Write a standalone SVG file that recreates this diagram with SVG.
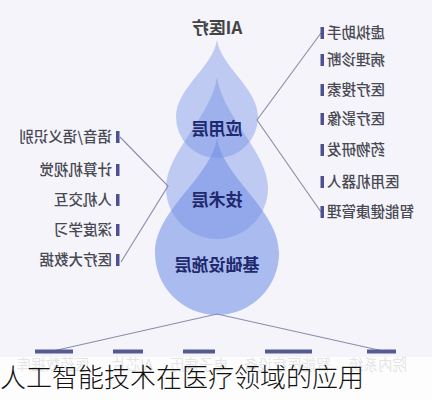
<svg xmlns="http://www.w3.org/2000/svg" width="432" height="400" viewBox="0 0 432 400">
<style>
  .bg{fill:#f4f4fa}
  .drop{fill:#6e8ce6}
  .lay{font-family:"Noto Sans CJK SC","Noto Sans",sans-serif;font-size:17px;font-weight:700;fill:#1f2a6e;text-anchor:middle}
  .lbl{font-family:"Noto Sans CJK SC","Noto Sans",sans-serif;font-size:14.5px;font-weight:500;fill:#484852}
  .bar{fill:#4d5190}
  .conn{fill:none;stroke:#8a8ca8;stroke-width:1.1}
  .hbar{fill:#555a92}
  .blbl{font-family:"Noto Sans CJK SC","Noto Sans",sans-serif;font-size:14.5px;fill:#777;text-anchor:middle}
  .title{font-family:"Noto Sans CJK SC","Noto Sans",sans-serif;font-size:17px;font-weight:700;fill:#444;text-anchor:middle}
  .cap{font-family:"Noto Sans CJK SC","Noto Sans",sans-serif;font-size:26px;font-weight:300;fill:#111}
</style>
<rect class="bg" x="0" y="0" width="432" height="400"/>
<g transform="matrix(-1 0 0 1 432 0)">
  <g id="connectors">
    <polyline class="conn" points="111,33 175,120 111,212"/>
    <polyline class="conn" points="312,137 264,186 311,262"/>
    <polyline class="conn" points="49,351 215,314 379,351"/>
  </g>
  <g id="title"><text class="title" x="215" y="34">AI医疗</text></g>
  <g id="infra-layer">
    <path class="drop" opacity="0.55" d="M215,138 C221.2,178.3 277,209.6 277,253 A62,62 0 0 1 153,253 C153,209.6 208.8,178.3 215,138 Z"/>
  </g>
  <g id="tech-layer">
    <path class="drop" opacity="0.4" d="M215,77 C220.1,115.9 266,152.3 266,188 A51,51 0 0 1 164,188 C164,152.3 209.9,115.9 215,77 Z"/>
  </g>
  <g id="app-layer">
    <path class="drop" opacity="0.4" d="M215,40 C219.1,67 256,88.3 256,117 A41,41 0 0 1 174,117 C174,88.3 210.9,67 215,40 Z"/>
  </g>
  <g id="app-layer-label"><text class="lay" x="215" y="135">应用层</text></g>
  <g id="tech-layer-label"><text class="lay" x="215" y="206">技术层</text></g>
  <g id="infra-layer-label"><text class="lay" x="215" y="271">基础设施层</text></g>

  <g id="app-1"><rect class="bar" x="108" y="27" width="3.5" height="12"/><text class="lbl" x="105" y="38" text-anchor="end">虚拟助手</text></g>
  <g id="app-2"><rect class="bar" x="108" y="54" width="3.5" height="12"/><text class="lbl" x="105" y="65" text-anchor="end">病理诊断</text></g>
  <g id="app-3"><rect class="bar" x="108" y="84" width="3.5" height="12"/><text class="lbl" x="105" y="95" text-anchor="end">医疗搜索</text></g>
  <g id="app-4"><rect class="bar" x="108" y="113" width="3.5" height="12"/><text class="lbl" x="105" y="124" text-anchor="end">医疗影像</text></g>
  <g id="app-5"><rect class="bar" x="108" y="144" width="3.5" height="12"/><text class="lbl" x="105" y="155" text-anchor="end">药物研发</text></g>
  <g id="app-6"><rect class="bar" x="108" y="176" width="3.5" height="12"/><text class="lbl" x="105" y="187" text-anchor="end">医用机器人</text></g>
  <g id="app-7"><rect class="bar" x="108" y="206" width="3.5" height="12"/><text class="lbl" x="105" y="217" text-anchor="end">智能健康管理</text></g>

  <g id="tech-1"><rect class="bar" x="312.5" y="131" width="3.5" height="12"/><text class="lbl" x="320" y="142">语音/语义识别</text></g>
  <g id="tech-2"><rect class="bar" x="312.5" y="164" width="3.5" height="12"/><text class="lbl" x="320" y="175">计算机视觉</text></g>
  <g id="tech-3"><rect class="bar" x="312.5" y="194" width="3.5" height="12"/><text class="lbl" x="320" y="205">人机交互</text></g>
  <g id="tech-4"><rect class="bar" x="312.5" y="224" width="3.5" height="12"/><text class="lbl" x="320" y="235">深度学习</text></g>
  <g id="tech-5"><rect class="bar" x="312.5" y="254" width="3.5" height="12"/><text class="lbl" x="320" y="265">医疗大数据</text></g>

  <g id="infra-1"><rect class="hbar" x="359" y="349.5" width="38" height="4"/><text class="blbl" x="379" y="370">医药数据库</text></g>
  <g id="infra-2"><rect class="hbar" x="289" y="349.5" width="30" height="4"/><text class="blbl" x="300" y="370">AI芯片</text></g>
  <g id="infra-3"><rect class="hbar" x="217" y="349.5" width="32" height="4"/><text class="blbl" x="233" y="370">电子病历</text></g>
  <g id="infra-4"><rect class="hbar" x="120" y="349.5" width="47" height="4"/><text class="blbl" x="145" y="370">智能医疗设备</text></g>
  <g id="infra-5"><rect class="hbar" x="36" y="349.5" width="29" height="4"/><text class="blbl" x="54" y="370">院内系统</text></g>
</g>
<rect x="0" y="357" width="432" height="43" fill="#ffffff" opacity="0.8"/>
<text class="cap" x="0" y="387">人工智能技术在医疗领域的应用</text>
</svg>
